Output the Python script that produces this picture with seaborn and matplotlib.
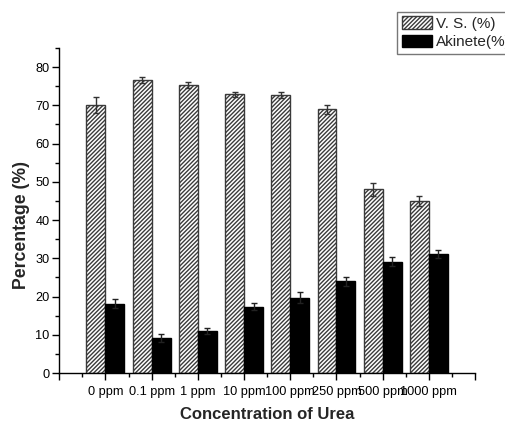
import matplotlib
matplotlib.use("Agg")
import matplotlib.pyplot as plt
import seaborn as sns
import pandas as pd
import numpy as np
from matplotlib.ticker import FixedLocator, MultipleLocator

categories = ["0 ppm", "0.1 ppm", "1 ppm", "10 ppm", "100 ppm", "250 ppm", "500 ppm", "1000 ppm"]
vs_values = [70.0, 76.6, 75.3, 72.9, 72.6, 69.0, 48.0, 45.0]
vs_errors = [2.1, 0.8, 0.9, 0.6, 0.8, 1.2, 1.6, 1.2]
ak_values = [18.1, 9.2, 11.0, 17.4, 19.7, 24.0, 29.1, 31.1]
ak_errors = [1.2, 1.1, 0.7, 0.9, 1.4, 1.1, 1.15, 1.1]
series_names = ["V. S. (%)", "Akinete(%)"]

sns.set_style("ticks")
plt.rcParams["font.family"] = ["Liberation Sans", "DejaVu Sans"]
plt.rcParams["hatch.linewidth"] = 1.0

df = pd.DataFrame({
    "Concentration": categories * 2,
    "Series": [series_names[0]] * len(categories) + [series_names[1]] * len(categories),
    "Value": vs_values + ak_values,
})

fig = plt.figure(figsize=(5.06, 4.24), dpi=100)
ax = fig.add_axes([0.117, 0.120, 0.822, 0.767])

sns.barplot(data=df, x="Concentration", y="Value", hue="Series", order=categories,
            hue_order=series_names, palette=["white", "black"], width=0.82,
            errorbar=None, ax=ax, legend=False, saturation=1)

bar_conts = list(ax.containers)
errs = [vs_errors, ak_errors]
vals = [vs_values, ak_values]
for i, cont in enumerate(bar_conts):
    for bar in cont:
        if i == 0:
            bar.set_facecolor("white")
            bar.set_edgecolor("#3a3a3a")
            bar.set_hatch("////////")
            bar.set_linewidth(1.0)
        else:
            bar.set_facecolor("black")
            bar.set_edgecolor("black")
            bar.set_linewidth(1.0)
    xs = [b.get_x() + b.get_width() / 2 for b in cont]
    ax.errorbar(xs, vals[i], yerr=errs[i], fmt="none", ecolor="#333333" if i == 0 else "#222222",
                elinewidth=1.0, capsize=2.5, capthick=1.0, zorder=5)

ax.set_xlim(-1, 8)
ax.set_ylim(0, 85)
ax.xaxis.set_major_locator(FixedLocator(list(range(-1, 9))))
ax.set_xticklabels([""] + categories + [""])
ax.xaxis.set_minor_locator(FixedLocator([k + 0.5 for k in range(-1, 8)]))
ax.yaxis.set_major_locator(FixedLocator([0, 10, 20, 30, 40, 50, 60, 70, 80]))
ax.yaxis.set_minor_locator(MultipleLocator(5))

ax.tick_params(axis="both", which="major", direction="out", length=5, width=1, labelsize=9.2, colors="black")
ax.tick_params(axis="x", which="major", pad=4)
ax.tick_params(axis="y", which="major", pad=2)
ax.tick_params(axis="both", which="minor", direction="out", length=3, width=1, colors="black")
for sp in ["top", "right"]:
    ax.spines[sp].set_visible(False)
for sp in ["left", "bottom"]:
    ax.spines[sp].set_linewidth(1.0)
    ax.spines[sp].set_color("black")

ax.set_xlabel("Concentration of Urea", fontsize=12, fontweight="bold", labelpad=7)
ax.set_ylabel("Percentage (%)", fontsize=12.7, fontweight="bold")
ax.yaxis.set_label_coords(-0.07, 0.455)

handles = [bar_conts[0][0], bar_conts[1][0]]
leg = fig.legend(handles, series_names, loc="upper left", bbox_to_anchor=(0.785, 0.972),
                 fontsize=11, frameon=True, fancybox=False, handlelength=2.0, handleheight=0.92,
                 handletextpad=0.25, labelspacing=0.22, borderpad=0.3, borderaxespad=0)
leg.get_frame().set_edgecolor("#555555")
leg.get_frame().set_linewidth(1.0)

fig.savefig("out.png", dpi=100)
